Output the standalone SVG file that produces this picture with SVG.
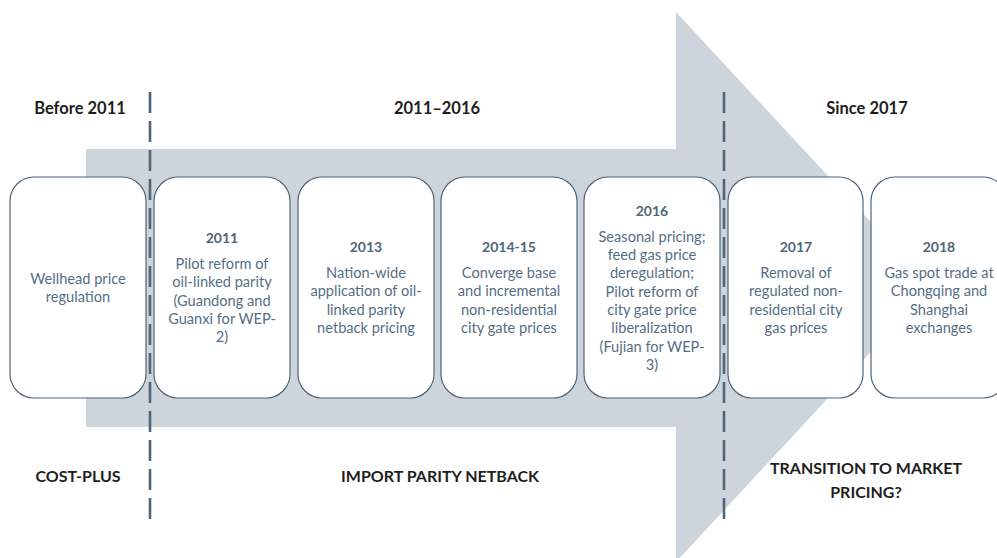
<svg xmlns="http://www.w3.org/2000/svg" width="997" height="558" viewBox="0 0 997 558">
<style>
.arrow{fill:#cdd4dc}
.box{fill:#fff;stroke:#4f6578;stroke-width:1.2}
.dash{stroke:#4f6578;stroke-width:2.6;stroke-dasharray:21 8;fill:none}
.hd{font-family:Lato,"Liberation Sans",sans-serif;font-weight:bold;font-size:16.5px;fill:#1e1e1e;text-anchor:middle}
.ft{font-family:Lato,"Liberation Sans",sans-serif;font-weight:bold;font-size:16px;fill:#1e1e1e;text-anchor:middle}
.yr{font-family:Lato,"Liberation Sans",sans-serif;font-weight:bold;font-size:14px;fill:#4f6578;text-anchor:middle}
.tx{font-family:Lato,"Liberation Sans",sans-serif;font-size:14.6px;fill:#566e84;text-anchor:middle}
</style>
<rect width="997" height="558" fill="#fff"/>
<path class="arrow" d="M86,149 H676 V12 L931,287 L676,562 V427 H86 Z"/>
<g id="connectors">
<line class="dash" x1="150" y1="92" x2="150" y2="526"/>
<line class="dash" x1="724" y1="92" x2="724" y2="526"/>
</g>
<g id="headers">
<text class="hd" x="80" y="114">Before 2011</text>
<text class="hd" x="437" y="114">2011–2016</text>
<text class="hd" x="867" y="114">Since 2017</text>
</g>
<g id="footers">
<text class="ft" x="78" y="482">COST-PLUS</text>
<text class="ft" x="440" y="482">IMPORT PARITY NETBACK</text>
<text class="ft" x="866" y="474">TRANSITION TO MARKET</text>
<text class="ft" x="866" y="498">PRICING?</text>
</g>
<g id="n1"><rect class="box" x="10" y="177" width="136" height="221" rx="24"/>
<text class="tx" x="78" y="284">Wellhead price</text><text class="tx" x="78" y="302">regulation</text></g>
<g id="n2"><rect class="box" x="154" y="177" width="136" height="221" rx="24"/>
<text class="yr" x="222" y="243">2011</text>
<text class="tx" x="222" y="269">Pilot reform of</text><text class="tx" x="222" y="287">oil-linked parity</text><text class="tx" x="222" y="306">(Guandong and</text><text class="tx" x="222" y="324">Guanxi for WEP-</text><text class="tx" x="222" y="342">2)</text></g>
<g id="n3"><rect class="box" x="298" y="177" width="136" height="221" rx="24"/>
<text class="yr" x="366" y="252">2013</text>
<text class="tx" x="366" y="278">Nation-wide</text><text class="tx" x="366" y="296">application of oil-</text><text class="tx" x="366" y="315">linked parity</text><text class="tx" x="366" y="333">netback pricing</text></g>
<g id="n4"><rect class="box" x="441" y="177" width="136" height="221" rx="24"/>
<text class="yr" x="509" y="252">2014-15</text>
<text class="tx" x="509" y="278">Converge base</text><text class="tx" x="509" y="296">and incremental</text><text class="tx" x="509" y="315">non-residential</text><text class="tx" x="509" y="333">city gate prices</text></g>
<g id="n5"><rect class="box" x="584" y="177" width="136" height="221" rx="24"/>
<text class="yr" x="652" y="216">2016</text>
<text class="tx" x="652" y="242">Seasonal pricing;</text><text class="tx" x="652" y="260">feed gas price</text><text class="tx" x="652" y="278">deregulation;</text><text class="tx" x="652" y="297">Pilot reform of</text><text class="tx" x="652" y="315">city gate price</text><text class="tx" x="652" y="333">liberalization</text><text class="tx" x="652" y="352">(Fujian for WEP-</text><text class="tx" x="652" y="370">3)</text></g>
<g id="n6"><rect class="box" x="728" y="177" width="135" height="221" rx="24"/>
<text class="yr" x="796" y="252">2017</text>
<text class="tx" x="796" y="278">Removal of</text><text class="tx" x="796" y="296">regulated non-</text><text class="tx" x="796" y="315">residential city</text><text class="tx" x="796" y="333">gas prices</text></g>
<g id="n7"><rect class="box" x="871" y="177" width="136" height="221" rx="24"/>
<text class="yr" x="939" y="252">2018</text>
<text class="tx" x="939" y="278">Gas spot trade at</text><text class="tx" x="939" y="296">Chongqing and</text><text class="tx" x="939" y="315">Shanghai</text><text class="tx" x="939" y="333">exchanges</text></g>
</svg>
